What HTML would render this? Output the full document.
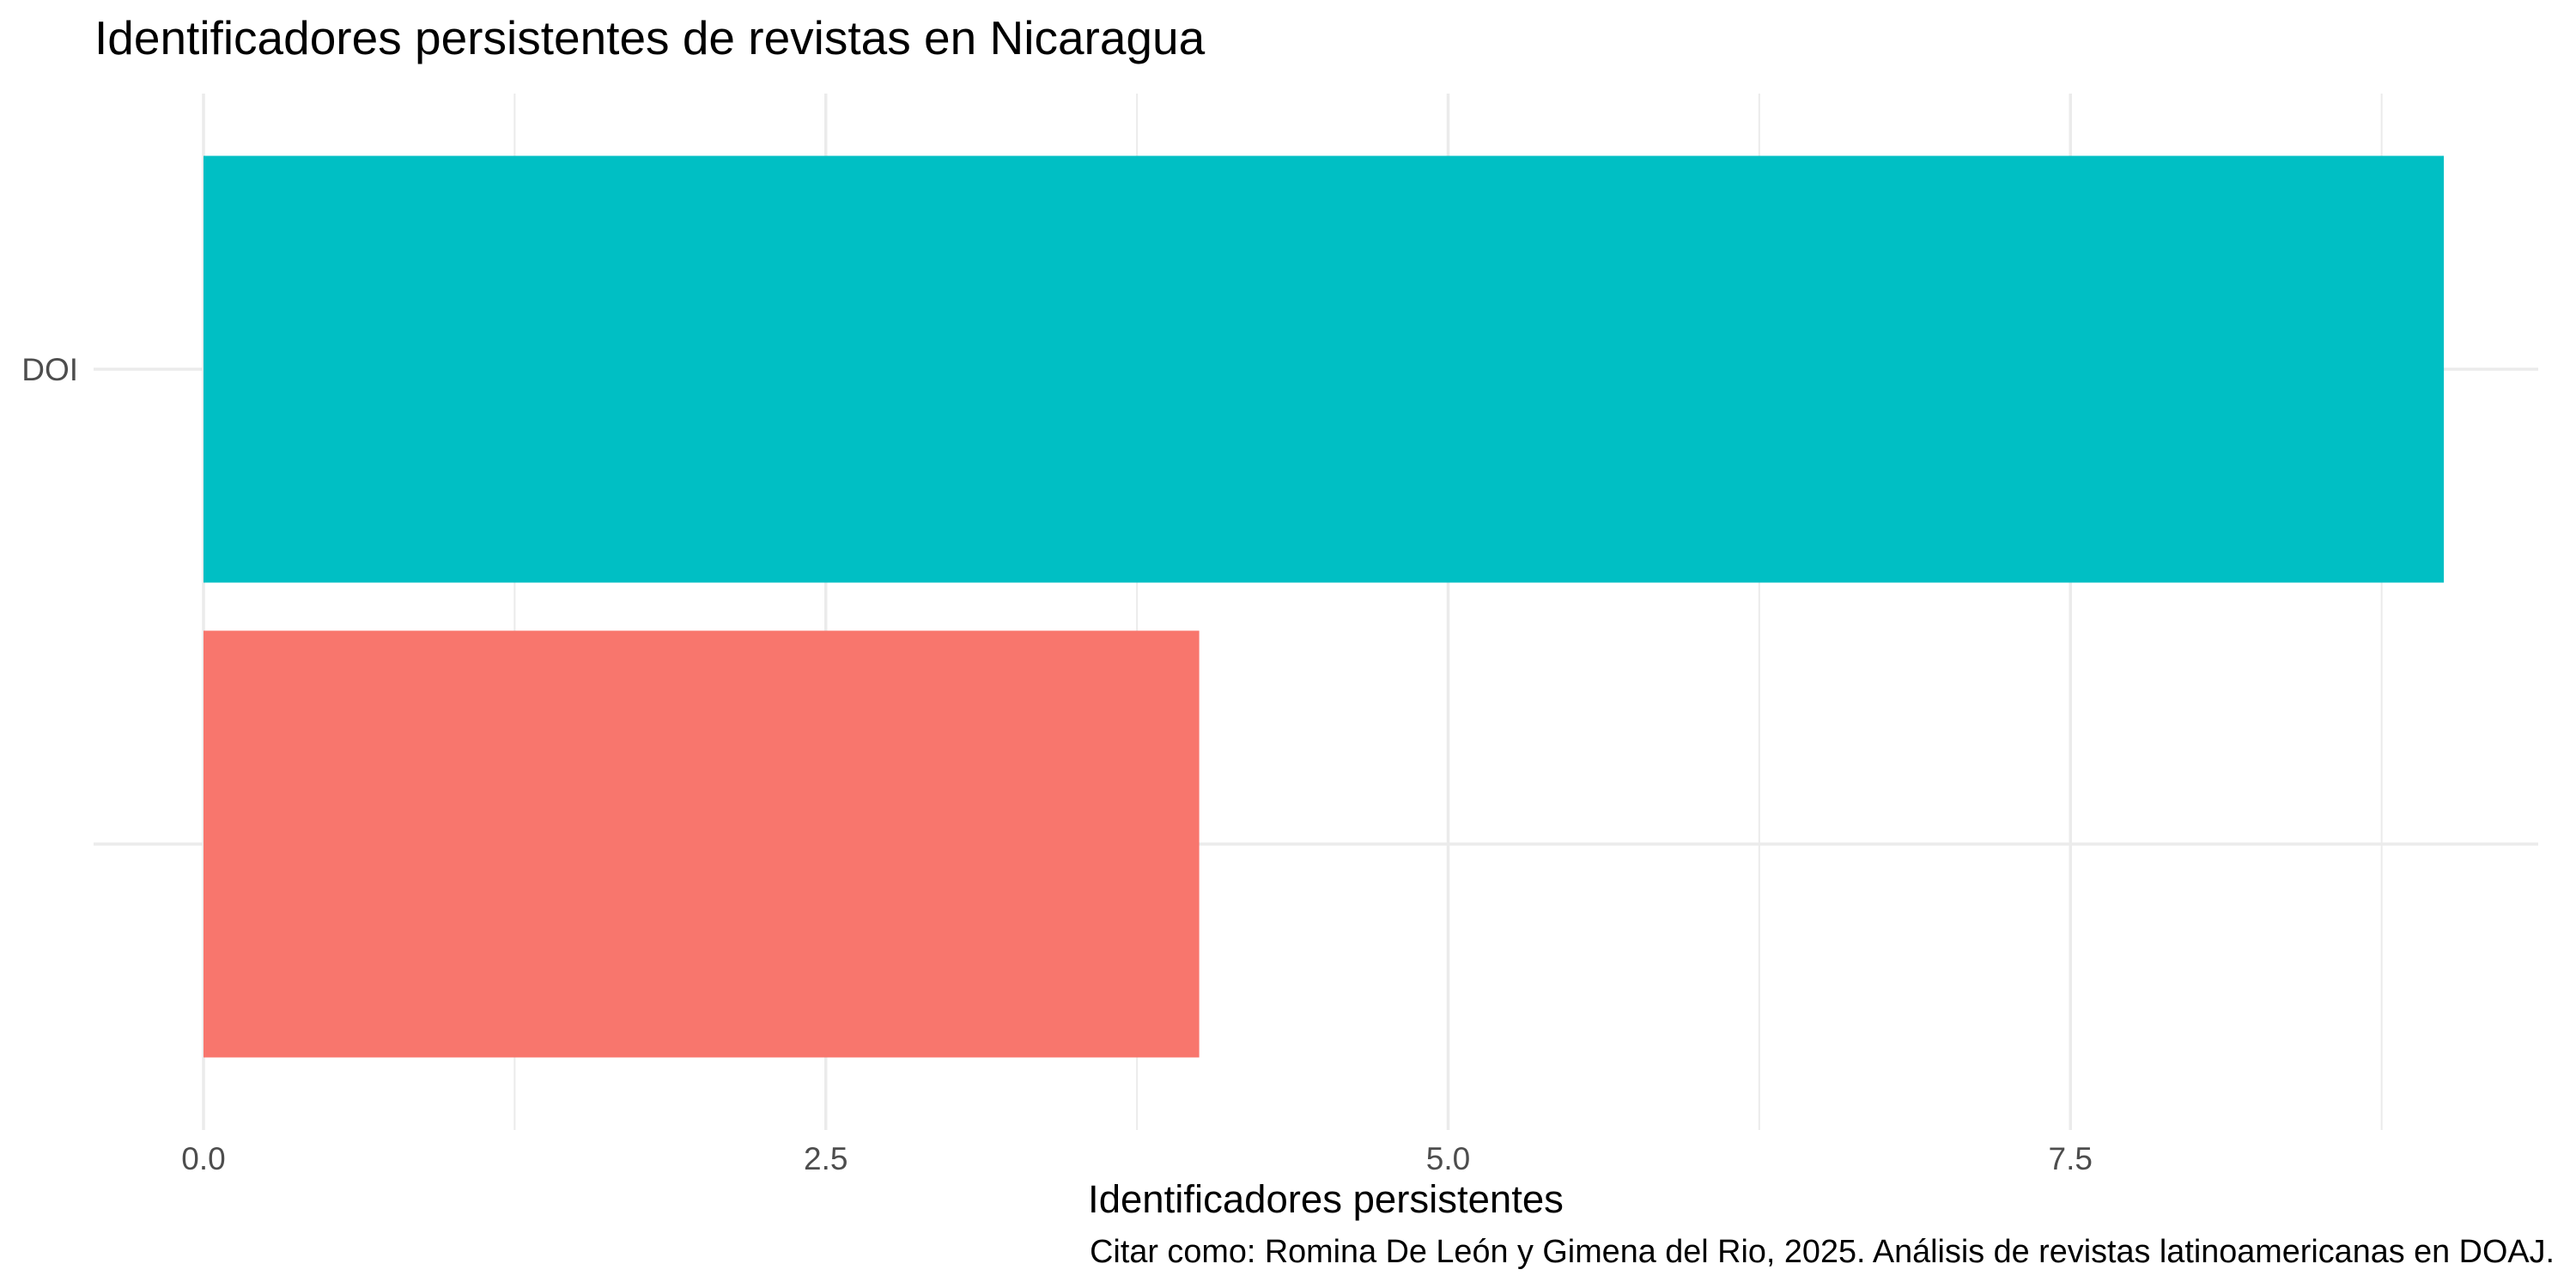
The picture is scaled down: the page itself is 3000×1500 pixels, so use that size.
<!DOCTYPE html>
<html><head><meta charset="utf-8"><style>
body{margin:0;background:#fff}
svg{display:block;font-family:"Liberation Sans",Arial,sans-serif}
</style></head><body>
<svg id="chart" width="3000" height="1500" viewBox="0 0 3000 1500">
<rect width="3000" height="1500" fill="#fff"/>
<text x="110" y="63" font-size="55" fill="#000">Identificadores persistentes de revistas en Nicaragua</text>
<g id="grid"></g>
<g id="bars"></g>
<g id="ticks"></g>
<text x="1544" y="1412" font-size="45.5" text-anchor="middle" fill="#000">Identificadores persistentes</text>
<text x="2975" y="1470" font-size="37.8" text-anchor="end" fill="#000">Citar como: Romina De León y Gimena del Rio, 2025. Análisis de revistas latinoamericanas en DOAJ.</text>
</svg>
<script>
const categories = ["DOI", ""];
const values = [9, 4];
const colors = ["#00BFC4", "#F8766D"];
const xTicks = [0, 2.5, 5, 7.5];
const xTickLabels = ["0.0", "2.5", "5.0", "7.5"];
const xMinorTicks = [1.25, 3.75, 6.25, 8.75];

const NS = "http://www.w3.org/2000/svg";
const x0 = 237, unit = 289.9;
const panelL = 109, panelR = 2956, panelT = 109, panelB = 1316;
const bandStep = 553, barH = 497;
const xs = v => x0 + v * unit;
const yc = i => 430 + i * bandStep;
function mk(tag, attrs, parent) {
  const e = document.createElementNS(NS, tag);
  for (const k in attrs) e.setAttribute(k, attrs[k]);
  parent.appendChild(e);
  return e;
}
const grid = document.getElementById('grid');
const bars = document.getElementById('bars');
const ticks = document.getElementById('ticks');
xMinorTicks.forEach(v => {
  const l = mk('line', {x1: xs(v), x2: xs(v), y1: panelT, y2: panelB, stroke: '#ebebeb', 'stroke-width': 2}, grid);
  
  
});
xTicks.forEach((v, i) => {
  const l = mk('line', {x1: xs(v), x2: xs(v), y1: panelT, y2: panelB, stroke: '#ebebeb', 'stroke-width': 3.5}, grid);
  
  
  const t = mk('text', {x: xs(v), y: 1362, 'font-size': 37, 'text-anchor': 'middle', fill: '#4d4d4d'}, ticks);
  t.textContent = xTickLabels[i];
  
  
});
categories.forEach((c, i) => {
  const l = mk('line', {x1: panelL, x2: panelR, y1: yc(i), y2: yc(i), stroke: '#ebebeb', 'stroke-width': 3.5}, grid);
  
  
  const t = mk('text', {x: 91, y: yc(i) + 13, 'font-size': 37, 'text-anchor': 'end', fill: '#4d4d4d'}, ticks);
  t.textContent = c;
  
  
  const r = mk('rect', {x: xs(0), y: yc(i) - barH / 2, width: xs(values[i]) - xs(0), height: barH, fill: colors[i]}, bars);
  
  
});
</script>
</body></html>
